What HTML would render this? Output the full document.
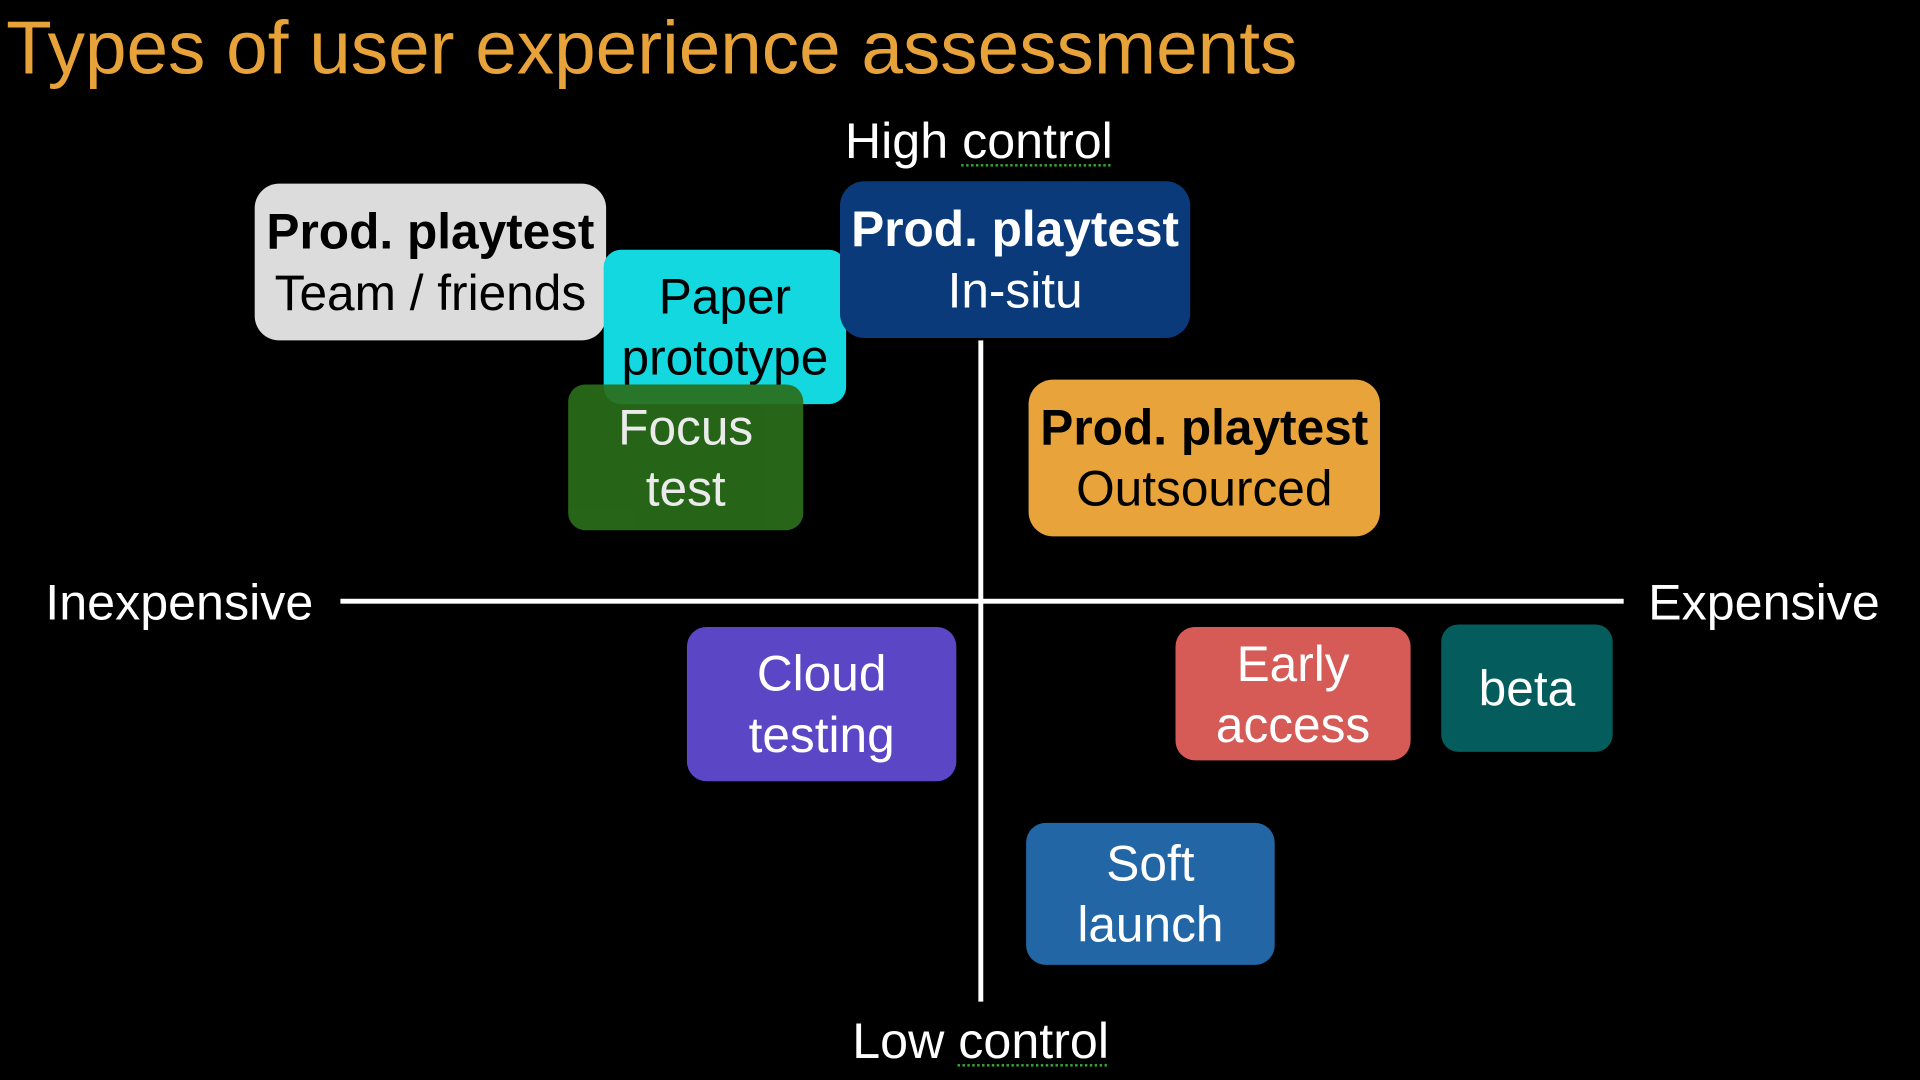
<!DOCTYPE html>
<html><head><style>
html,body{margin:0;padding:0;background:#000;width:1920px;height:1080px;overflow:hidden}
#s{position:absolute;left:0;top:0;width:1568px;height:882px;transform:scale(1.22449);transform-origin:0 0;font-family:"Liberation Sans",Arial,sans-serif;color:#fff}
.t{position:absolute;white-space:nowrap}
.b{position:absolute;border-radius:20px;display:flex;flex-direction:column;align-items:center;justify-content:center;font-size:40.5px;line-height:50px;text-align:center;white-space:nowrap}
.b b{font-weight:bold}
.u{text-decoration:underline dotted #3a3;text-underline-offset:5px;text-decoration-thickness:2px}
</style></head><body><div id="s">
<div class="t" style="left:5px;top:4px;font-size:61px;color:#E8A23A;">Types of user experience assessments</div>
<div class="t" style="left:690px;top:92px;font-size:41px;">High <span class="u">control</span></div>
<div class="t" style="left:696px;top:827px;font-size:41px;">Low <span class="u">control</span></div>
<div class="t" style="left:37px;top:469px;font-size:41px;">Inexpensive</div>
<div class="t" style="left:1346px;top:469px;font-size:41px;">Expensive</div>
<div style="position:absolute;left:278px;top:489px;width:1048px;height:4px;background:#fff"></div>
<div style="position:absolute;left:799px;top:278px;width:4px;height:540px;background:#fff"></div>

<div class="b" style="left:208px;top:150px;width:287px;height:128px;background:#DCDCDC;color:#000"><b>Prod. playtest</b><span>Team / friends</span></div>
<div class="b" style="left:493px;top:204px;width:198px;height:126px;background:#13D8E0;color:#000;border-radius:14px"><span>Paper</span><span>prototype</span></div>
<div class="b" style="left:464px;top:314px;width:192px;height:119px;background:#2A6E1A;opacity:.92;border-radius:14px"><span>Focus</span><span>test</span></div>
<div class="b" style="left:686px;top:148px;width:286px;height:128px;background:#0B3A7A"><b>Prod. playtest</b><span>In-situ</span></div>
<div class="b" style="left:840px;top:310px;width:287px;height:128px;background:#E8A43A;color:#000"><b>Prod. playtest</b><span>Outsourced</span></div>
<div class="b" style="left:561px;top:512px;width:220px;height:126px;background:#5B47C5;border-radius:16px"><span>Cloud</span><span>testing</span></div>
<div class="b" style="left:960px;top:512px;width:192px;height:109px;background:#D65A55;border-radius:16px"><span>Early</span><span>access</span></div>
<div class="b" style="left:1177px;top:510px;width:140px;height:104px;background:#055C5C;border-radius:14px"><span>beta</span></div>
<div class="b" style="left:838px;top:672px;width:203px;height:116px;background:#2266A5;border-radius:16px"><span>Soft</span><span>launch</span></div>
</div></body></html>
